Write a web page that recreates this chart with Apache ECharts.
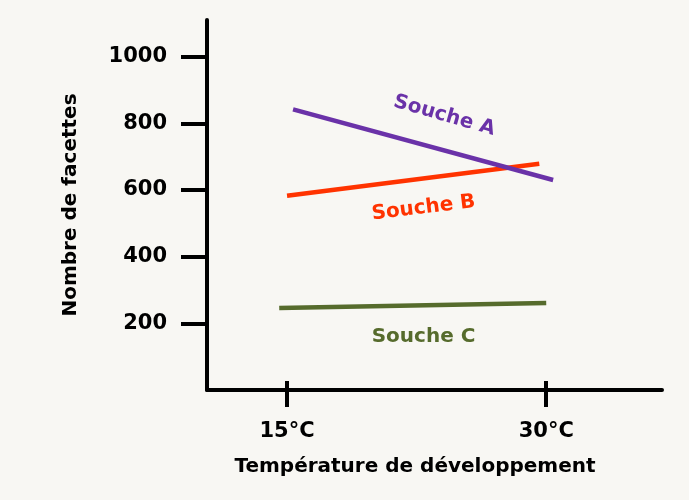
<!DOCTYPE html>
<html>
<head>
<meta charset="utf-8">
<script src="https://cdn.jsdelivr.net/npm/echarts@6/dist/echarts.min.js"></script>
<style>
html,body{margin:0;padding:0;background:#f8f7f3;}
#c{width:689px;height:500px;}
</style>
</head>
<body>
<div id="c"></div>
<script>
// Data
var xTickValues = [15, 30];
var xTickLabels = ['15°C', '30°C'];
var yTickValues = [200, 400, 600, 800, 1000];
var seriesNames = ['Souche A', 'Souche B', 'Souche C'];
var soucheA = [[15.35, 842], [30.4, 630]];
var soucheB = [[15.0, 583], [29.6, 679]];
var soucheC = [[14.55, 246], [30.0, 261]];
var labelAnchors = [[24.1, 823], [22.9, 546], [22.9, 159]];

var colors = ['#6a32a8', '#ff3300', '#566b2c'];
var labelRot = [-16, 7, 0];
var FONT = '"Comic Sans MS", "DejaVu Sans", sans-serif';

var chart = echarts.init(document.getElementById('c'), null, {renderer: 'canvas'});
var lines = [soucheA, soucheB, soucheC];
var series = lines.map(function (d, i) {
  return {
    name: seriesNames[i],
    type: 'line',
    data: d,
    symbol: 'none',
    lineStyle: {color: colors[i], width: 4.5},
    silent: true,
    z: 3 - i + 2,
    markPoint: {
      symbol: 'circle',
      symbolSize: 0,
      data: [{
        coord: labelAnchors[i],
        label: {
          show: true,
          formatter: seriesNames[i],
          color: colors[i],
          fontFamily: FONT,
          fontWeight: 'bold',
          fontSize: 20,
          rotate: labelRot[i],
          position: 'inside'
        }
      }]
    }
  };
});

var xCommon = {type: 'value', min: 10.37, max: 36.7, splitLine: {show: false}};

chart.setOption({
  backgroundColor: '#f8f7f3',
  animation: false,
  grid: {left: 207, right: 27, top: 20, bottom: 110, containLabel: false},
  xAxis: [
    Object.assign({}, xCommon, {
      axisLine: {lineStyle: {color: '#000', width: 4}},
      axisTick: {show: true, customValues: xTickValues, length: 17, lineStyle: {color: '#000', width: 4}},
      axisLabel: {
        customValues: xTickValues,
        formatter: function (v) { return xTickLabels[xTickValues.indexOf(v)] || ''; },
        color: '#000', fontFamily: FONT, fontWeight: 'bold', fontSize: 21, margin: 31
      },
      name: 'Température de développement',
      nameLocation: 'middle',
      nameGap: 67,
      nameTextStyle: {color: '#000', fontFamily: FONT, fontWeight: 'bold', fontSize: 20, padding: [0, 39, 0, 0]}
    }),
    Object.assign({}, xCommon, {
      position: 'bottom',
      axisLine: {show: false},
      axisTick: {show: true, inside: true, customValues: xTickValues, length: 9, lineStyle: {color: '#000', width: 4}},
      axisLabel: {show: false}
    })
  ],
  yAxis: {
    type: 'value',
    min: 0,
    max: 1110,
    splitLine: {show: false},
    axisLine: {lineStyle: {color: '#000', width: 4}},
    axisTick: {show: true, customValues: yTickValues, length: 26, lineStyle: {color: '#000', width: 4}},
    axisLabel: {
      customValues: yTickValues,
      formatter: function (v) { return String(v); },
      color: '#000', fontFamily: FONT, fontWeight: 'bold', fontSize: 21, margin: 40
    },
    name: 'Nombre de facettes',
    nameLocation: 'middle',
    nameGap: 126,
    nameRotate: 90,
    nameTextStyle: {color: '#000', fontFamily: FONT, fontWeight: 'bold', fontSize: 20}
  },
  series: series
});
</script>
</body>
</html>
